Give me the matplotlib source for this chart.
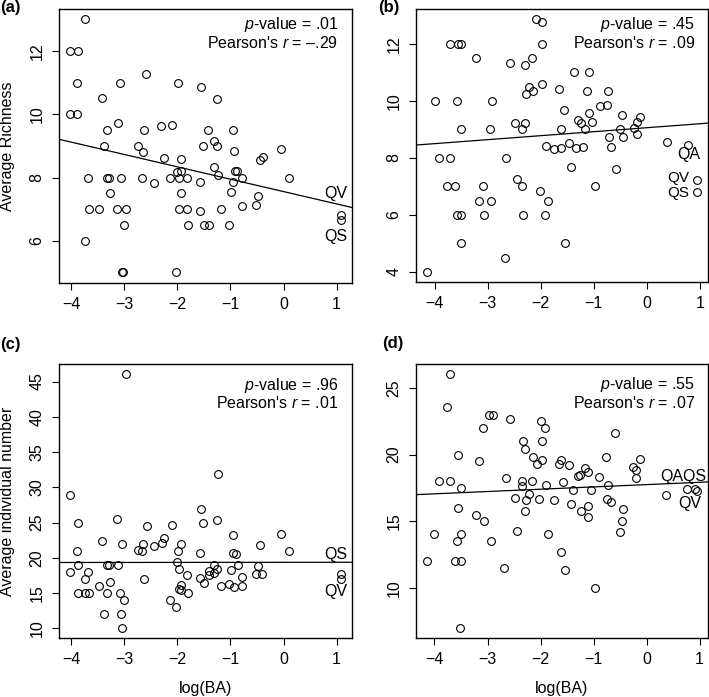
import numpy as np
import matplotlib
matplotlib.use("Agg")
import matplotlib.pyplot as plt

plt.rcParams['font.family'] = ['Liberation Sans', 'DejaVu Sans']
plt.rcParams['mathtext.fontset'] = 'custom'
plt.rcParams['mathtext.rm'] = 'Liberation Sans'
plt.rcParams['mathtext.it'] = 'Liberation Sans:italic'
plt.rcParams['font.size'] = 11.5

# ---------------- data ----------------
a_x = [-3.74, -4.03, -3.87, -3.89, -3.08, -2.59, -1.99, -1.56, -1.26, -3.42, -4.02, -3.89,
       -3.12, -3.33, -2.62, -2.30, -2.10, -1.42, -0.96, -3.38, -2.75, -2.64, -1.52, -1.30,
       -1.26, -0.94, -0.05, -0.45, -0.39, -2.26, -1.94, -1.31, -2.01, -1.94, -0.91, -0.87,
       -1.23, -3.68, -3.33, -3.29, -3.07, -2.67, -2.13, -1.96, -1.81, -0.79, 0.11, -2.43,
       -1.57, -0.95, -3.26, -1.94, -0.99, -0.48, -3.67, -3.48, -3.14, -2.97, -1.96, -1.81,
       -1.58, -1.18, -0.79, -0.52, -3.01, -1.80, -1.49, -1.40, -1.03, 1.08, 1.08, -3.73,
       -3.04, -3.02, -2.03]
a_y = [13.0, 12.0, 12.0, 11.0, 11.0, 11.27, 11.0, 10.85, 10.49, 10.5, 10.0, 10.0,
       9.74, 9.5, 9.5, 9.62, 9.66, 9.5, 9.5, 9.0, 9.0, 8.82, 9.0, 9.14,
       9.0, 8.84, 8.9, 8.55, 8.66, 8.63, 8.6, 8.34, 8.18, 8.2, 8.2, 8.22,
       8.08, 8.0, 8.0, 8.0, 8.0, 8.0, 8.0, 8.0, 8.0, 8.0, 8.0, 7.83,
       7.86, 7.87, 7.5, 7.5, 7.53, 7.42, 7.0, 7.0, 7.0, 7.0, 7.0, 7.0,
       6.95, 7.0, 7.10, 7.13, 6.5, 6.5, 6.5, 6.5, 6.5, 6.81, 6.65, 6.0,
       5.0, 5.0, 5.0]

b_x = [-2.09, -1.97, -3.70, -3.56, -3.51, -1.98, -3.22, -2.57, -2.29, -2.16, -1.38, -1.10,
       -2.22, -2.14, -2.27, -1.97, -1.65, -1.12, -0.74, -4.00, -3.57, -2.91, -1.57, -0.89,
       -0.76, -1.09, -0.47, -1.30, -1.25, -1.04, -2.49, -2.30, -3.50, -2.96, -2.35, -1.61,
       -1.16, -0.51, -0.25, -0.19, -0.13, -0.72, -0.45, -0.19, 0.37, 0.77, -1.90, -1.75,
       -1.62, -1.46, -1.33, -1.21, -0.68, -3.92, -3.70, -2.66, -1.43, -0.59, -3.77, -3.62,
       -3.08, -2.35, -0.98, -2.44, -2.02, -3.16, -2.93, -1.86, 0.95, 0.94, -3.57, -3.51,
       -3.07, -2.33, -1.92, -3.51, -1.54, -2.68, -4.15]
b_y = [12.86, 12.76, 12.0, 12.0, 12.0, 12.0, 11.5, 11.33, 11.26, 11.5, 11.0, 11.0,
       10.5, 10.35, 10.24, 10.61, 10.43, 10.34, 10.34, 10.0, 10.0, 10.0, 9.68, 9.83,
       9.85, 9.58, 9.5, 9.34, 9.22, 9.27, 9.24, 9.21, 9.0, 9.0, 9.0, 9.0,
       9.0, 9.0, 9.06, 9.27, 9.43, 8.75, 8.73, 8.85, 8.57, 8.46, 8.43, 8.32,
       8.33, 8.51, 8.33, 8.40, 8.37, 8.0, 8.0, 8.0, 7.68, 7.62, 7.0, 7.0,
       7.0, 7.0, 7.0, 7.25, 6.84, 6.5, 6.5, 6.5, 7.23, 6.79, 6.0, 6.0,
       6.0, 6.0, 6.0, 5.0, 5.0, 4.5, 4.0]

c_x = [-2.96, -1.23, -4.03, -1.55, -1.26, -3.13, -3.88, -1.52, -2.58, -2.10, -0.96, -0.05,
       -2.26, -3.42, -2.29, -3.05, -2.64, -1.93, -0.44, -2.43, -2.75, -2.67, 0.11, -3.89,
       -1.99, -1.57, -0.96, -0.90, -2.00, -4.02, -3.88, -3.33, -3.29, -3.12, -0.86, -1.30,
       -3.68, -1.96, -1.26, -1.40, -1.31, -0.99, -0.48, -0.52, -0.40, -1.41, -1.82, -0.79,
       -3.73, -2.62, -1.57, -3.26, -1.49, -1.03, -3.48, -1.94, -1.18, -0.79, -0.94, -1.96,
       -1.94, -3.88, -3.74, -3.67, -3.33, -3.08, -1.80, -3.00, -2.13, -2.03, -3.38, -3.07,
       -3.04, 1.08, 1.08]
c_y = [46.0, 31.85, 28.96, 26.98, 25.37, 25.51, 24.99, 24.99, 24.56, 24.66, 23.24, 23.43,
       22.86, 22.44, 22.11, 22.01, 21.92, 22.01, 21.82, 21.63, 21.11, 20.92, 20.92, 20.97,
       20.97, 20.73, 20.64, 20.54, 19.36, 18.04, 19.03, 19.03, 19.03, 19.03, 19.03, 19.03,
       18.04, 18.46, 18.46, 18.18, 17.89, 18.32, 18.79, 17.66, 17.75, 17.52, 17.52, 17.33,
       17.04, 17.04, 17.14, 16.52, 16.48, 16.29, 15.99, 16.19, 15.99, 15.99, 15.81, 15.53,
       15.43, 15.01, 15.01, 15.01, 15.01, 15.01, 15.01, 14.02, 14.02, 13.02, 12.03, 12.03,
       10.04, 17.66, 17.04]

d_x = [-3.70, -3.76, -2.98, -2.90, -2.57, -3.08, -1.99, -1.92, -0.59, -2.33, -1.97, -2.29,
       -3.56, -2.14, -0.76, -3.16, -1.97, -2.07, -1.61, -1.65, -1.46, -0.25, -0.19, -0.19,
       -0.13, -1.17, -1.10, -1.30, -1.25, -0.89, -3.92, -3.70, -3.50, -2.66, -2.35, -2.16,
       -2.35, -1.90, -1.57, -0.72, -1.38, -1.04, -2.22, -2.49, -2.02, -2.28, -1.74, -0.74,
       -0.68, 0.37, 0.77, 0.92, 0.96, -1.43, -1.10, -0.45, -3.56, -2.30, -1.23, -1.10,
       -3.22, -3.07, -0.47, -0.51, -2.44, -4.00, -3.50, -1.86, -3.57, -2.93, -1.61, -4.15,
       -3.62, -3.50, -2.68, -1.54, -0.98, -3.51]
d_y = [26.0, 23.53, 23.0, 23.0, 22.65, 22.0, 22.5, 22.0, 21.6, 21.0, 21.0, 20.4,
       20.0, 19.8, 19.8, 19.5, 19.58, 19.28, 19.63, 19.3, 19.25, 19.1, 18.85, 18.28,
       19.68, 19.03, 18.68, 18.4, 18.45, 18.35, 18.0, 18.0, 17.5, 18.28, 18.0, 18.0,
       17.68, 17.75, 17.95, 17.75, 17.35, 17.35, 17.03, 16.78, 16.65, 16.63, 16.6, 16.68,
       16.45, 16.95, 17.45, 17.45, 17.3, 16.33, 16.18, 15.95, 16.0, 15.8, 15.8, 15.35,
       15.5, 15.0, 15.0, 14.18, 14.25, 14.03, 14.03, 14.03, 13.5, 13.5, 12.68, 12.03,
       12.03, 12.03, 11.5, 11.35, 10.0, 7.0]

# fitted lines: (intercept, slope)
a_fit = (7.556, -0.391)
b_fit = (9.06, 0.140)
c_fit = (19.37, 0.005)
d_fit = (17.75, 0.1725)

x_ticks = [-4, -3, -2, -1, 0, 1]
a_yticks = [6, 8, 10, 12]
b_yticks = [4, 6, 8, 10, 12]
c_yticks = [10, 15, 20, 25, 30, 35, 40, 45]
d_yticks = [10, 15, 20, 25]

a_stats = ("$p$-value = .01", "Pearson's $r$ = \u2013.29")
b_stats = ("$p$-value = .45", "Pearson's $r$ = .09")
c_stats = ("$p$-value = .96", "Pearson's $r$ = .01")
d_stats = ("$p$-value = .55", "Pearson's $r$ = .07")

# site labels: (text, x, y, horizontal alignment, font size)
a_labels = [("QV", 0.98, 7.5, 'center', 11.5), ("QS", 0.98, 6.13, 'center', 11.5)]
b_labels = [("QA", 0.78, 8.11, 'center', 11.5), ("QV", 0.59, 7.29, 'center', 11),
            ("QS", 0.59, 6.76, 'center', 11)]
c_labels = [("QS", 0.98, 20.54, 'center', 11.5), ("QV", 0.98, 15.29, 'center', 11.5)]
d_labels = [("QAQS", 1.135, 18.37, 'right', 11.5), ("QV", 0.81, 16.37, 'center', 11.5)]

# ---------------- layout ----------------
W, H = 709, 697
fig = plt.figure(figsize=(W / 100, H / 100), dpi=100)

def rect(l, r, t, b):
    return [l / W, 1 - b / H, (r - l) / W, (b - t) / H]

panels = [
    dict(rect=rect(58.7, 351.7, 9.3, 282.5), x=a_x, y=a_y, fit=a_fit, yt=a_yticks,
         stats=a_stats, labels=a_labels, sy=(0.945, 0.878)),
    dict(rect=rect(415.7, 708.3, 9.3, 282.0), x=b_x, y=b_y, fit=b_fit, yt=b_yticks,
         stats=b_stats, labels=b_labels, sy=(0.945, 0.878)),
    dict(rect=rect(58.7, 351.7, 364.3, 638.3), x=c_x, y=c_y, fit=c_fit, yt=c_yticks,
         stats=c_stats, labels=c_labels, sy=(0.924, 0.859)),
    dict(rect=rect(415.7, 708.3, 364.3, 638.3), x=d_x, y=d_y, fit=d_fit, yt=d_yticks,
         stats=d_stats, labels=d_labels, sy=(0.926, 0.860)),
]

axes = []
for p in panels:
    ax = fig.add_axes(p['rect'])
    x = np.array(p['x']); y = np.array(p['y'])
    ax.plot(x, y, linestyle='none', marker='o', markersize=5.6,
            markerfacecolor='none', markeredgecolor='black', markeredgewidth=0.8)
    xr = x.max() - x.min(); yr = y.max() - y.min()
    ax.set_xlim(x.min() - 0.04 * xr, x.max() + 0.04 * xr)
    ax.set_ylim(y.min() - 0.04 * yr, y.max() + 0.04 * yr)
    b0, m = p['fit']
    ax.axline((0, b0), slope=m, color='black', linewidth=0.9)
    ax.set_xticks(x_ticks)
    ax.set_yticks(p['yt'])
    ax.tick_params(direction='out', length=5.2, width=0.8, pad=5, labelsize=11.5)
    for lab in ax.get_yticklabels():
        lab.set_rotation(90)
        lab.set_va('center')
    for s in ax.spines.values():
        s.set_linewidth(1.0)
    ax.text(0.954, p['sy'][0], p['stats'][0], transform=ax.transAxes,
            ha='right', va='center', fontsize=11.5)
    ax.text(0.954, p['sy'][1], p['stats'][1], transform=ax.transAxes,
            ha='right', va='center', fontsize=11.5)
    for (t, lx, ly, ha, fs) in p['labels']:
        ax.text(lx, ly, t, ha=ha, va='center', fontsize=fs)
    axes.append(ax)

# axis titles
fig.text(7.3 / W, 1 - 146 / H, "Average Richness", rotation=90, ha='center', va='center', fontsize=11.5)
fig.text(7.3 / W, 1 - 501.3 / H, "Average individual number", rotation=90, ha='center', va='center', fontsize=11.5)
for ax in axes[2:]:
    ax.text(0.5, -50 / 274, "log(BA)", transform=ax.transAxes, ha='center', va='center', fontsize=11.5)

# panel letters
fig.text(0 / W, 1 - 7.3 / H, "(a)", ha='left', va='center', fontsize=12, fontweight='bold')
fig.text(378.3 / W, 1 - 7.3 / H, "(b)", ha='left', va='center', fontsize=12, fontweight='bold')
fig.text(0 / W, 1 - 345 / H, "(c)", ha='left', va='center', fontsize=12, fontweight='bold')
fig.text(381.7 / W, 1 - 343.3 / H, "(d)", ha='left', va='center', fontsize=12, fontweight='bold')

fig.savefig("out.png", dpi=100)
